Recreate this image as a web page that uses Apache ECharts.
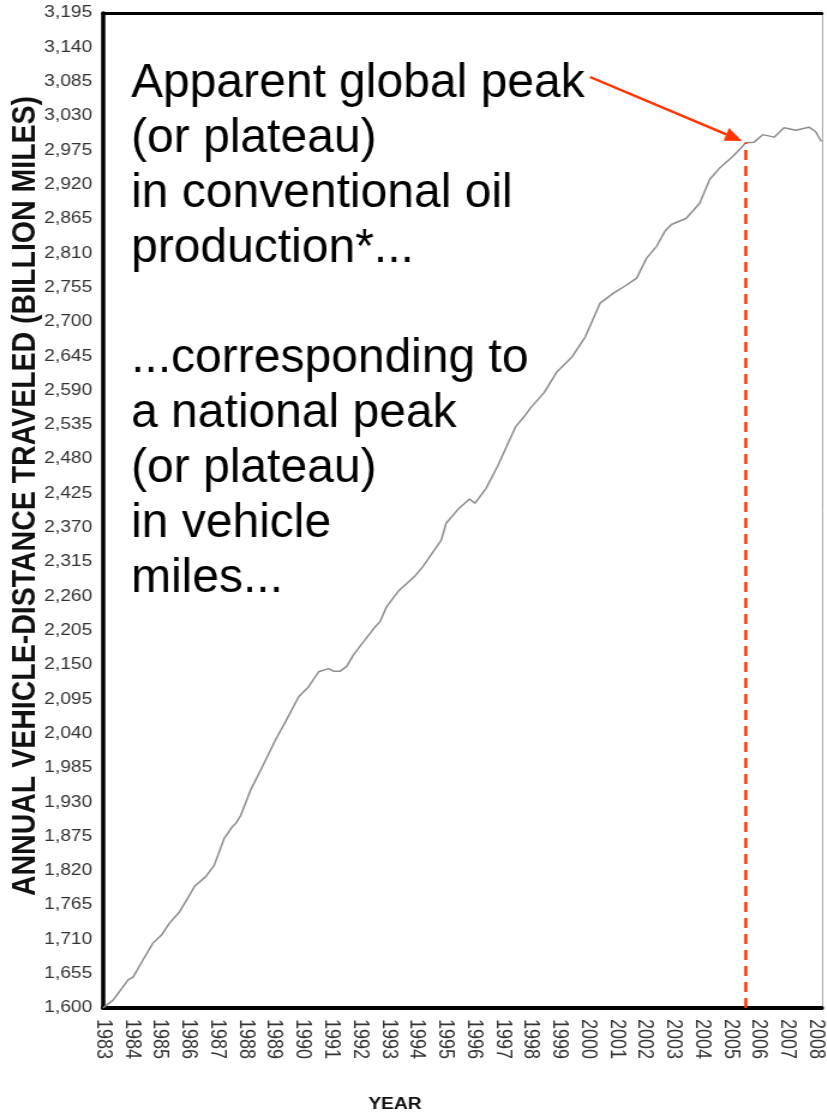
<!DOCTYPE html>
<html>
<head>
<meta charset="utf-8">
<title>Annual vehicle-distance traveled</title>
<script src="https://cdn.jsdelivr.net/npm/echarts@6/dist/echarts.min.js"></script>
<style>
  html, body { margin: 0; padding: 0; background: #fff; }
  #wrap { width: 827px; height: 1120px; overflow: hidden; }
  /* the source picture is stretched sideways, so the chart is too */
  #chart { width: 689px; height: 1120px; transform: scaleX(1.2); transform-origin: 0 0; }
</style>
</head>
<body>
<div id="wrap"><div id="chart"></div></div>
<script>
// moving annual total, billion miles
const years = [
  1983.00, 1983.07, 1983.36, 1983.88, 1984.06, 1984.40, 1984.75, 1985.05, 1985.33, 1985.68,
  1985.97, 1986.21, 1986.61, 1986.90, 1987.25, 1987.54, 1987.66, 1987.83, 1988.06, 1988.18,
  1988.59, 1989.05, 1989.40, 1989.86, 1990.21, 1990.56, 1990.91, 1991.08, 1991.32, 1991.55,
  1991.78, 1992.13, 1992.54, 1992.71, 1992.94, 1993.35, 1993.93, 1994.22, 1994.86, 1995.03,
  1995.44, 1995.85, 1996.04, 1996.43, 1996.83, 1997.47, 1997.82, 1997.99, 1998.46, 1998.92,
  1999.45, 1999.91, 2000.43, 2000.90, 2001.36, 2001.71, 2002.06, 2002.41, 2002.70, 2002.93,
  2003.45, 2003.92, 2004.27, 2004.61, 2005.08, 2005.54, 2005.83, 2006.13, 2006.53, 2006.88,
  2007.29, 2007.75, 2007.98, 2008.19
]
const vmt = [
  1600, 1602, 1613, 1645, 1650, 1677, 1704, 1717, 1736, 1754,
  1776, 1795, 1811, 1829, 1872, 1891, 1896, 1909, 1936, 1950,
  1987, 2030, 2059, 2099, 2115, 2139, 2144, 2140, 2140, 2148,
  2166, 2187, 2211, 2219, 2243, 2268, 2292, 2308, 2350, 2377,
  2399, 2416, 2409, 2433, 2468, 2532, 2551, 2562, 2586, 2620,
  2644, 2676, 2730, 2746, 2759, 2770, 2802, 2821, 2845, 2856,
  2866, 2890, 2928, 2946, 2965, 2987, 2988, 3000, 2996, 3011,
  3007, 3012, 3005, 2989
]
const yearTicks = [
  1983, 1984, 1985, 1986, 1987, 1988, 1989, 1990, 1991, 1992, 1993, 1994, 1995,
  1996, 1997, 1998, 1999, 2000, 2001, 2002, 2003, 2004, 2005, 2006, 2007, 2008
]
const vmtTicks = [
  1600, 1655, 1710, 1765, 1820, 1875, 1930, 1985, 2040, 2095, 2150, 2205, 2260, 2315, 2370,
  2425, 2480, 2535, 2590, 2645, 2700, 2755, 2810, 2865, 2920, 2975, 3030, 3085, 3140, 3195
]
const peakYear = 2005.54
const peakValue = 2987
const noteLines = [
  'Apparent global peak',
  '(or plateau)',
  'in conventional oil',
  'production*...',
  '',
  '...corresponding to',
  'a national peak',
  '(or plateau)',
  'in vehicle',
  'miles...'
]

const S = 1.2 // horizontal stretch
const sx = v => v / S
const FONT = '"Liberation Sans", Arial, sans-serif'
const RED = '#ff3300'

// arrow, in page pixels
const arrowFrom = [590, 77]
const arrowTip = [742, 141]
const dx = arrowTip[0] - arrowFrom[0]
const dy = arrowTip[1] - arrowFrom[1]
const len = Math.sqrt(dx * dx + dy * dy)
const ux = dx / len
const uy = dy / len
const headLen = 17
const headHalf = 7
const baseX = arrowTip[0] - ux * headLen
const baseY = arrowTip[1] - uy * headLen

const chart = echarts.init(document.getElementById('chart'))

chart.setOption({
  animation: false,
  backgroundColor: '#fff',
  grid: {
    left: sx(103),
    right: 689 - sx(826),
    top: 13,
    bottom: 112
  },
  xAxis: [{
    type: 'value',
    min: 1983,
    max: 2008.2,
    position: 'bottom',
    axisLine: { onZero: false, lineStyle: { color: '#000', width: 4 } },
    axisTick: { show: false },
    splitLine: { show: false },
    axisLabel: {
      customValues: yearTicks,
      rotate: -90,
      margin: 11,
      fontSize: 18,
      fontFamily: FONT,
      color: '#333',
      formatter: v => String(v)
    }
  }, {
    type: 'value',
    min: 1983,
    max: 2008.2,
    position: 'top',
    axisLine: { onZero: false, lineStyle: { color: '#000', width: 3 } },
    axisTick: { show: false },
    axisLabel: { show: false },
    splitLine: { show: false }
  }],
  yAxis: [{
    type: 'value',
    min: 1600,
    max: 3195,
    position: 'left',
    axisLine: { show: true, onZero: false, lineStyle: { color: '#000', width: 3.5 } },
    axisTick: { show: false },
    splitLine: { show: false },
    axisLabel: {
      customValues: vmtTicks,
      margin: 9,
      fontSize: 16,
      fontFamily: FONT,
      color: '#333',
      formatter: v => v.toLocaleString('en-US')
    }
  }, {
    type: 'value',
    min: 1600,
    max: 3195,
    position: 'right',
    axisLine: { show: true, onZero: false, lineStyle: { color: '#aaa', width: 1 } },
    axisTick: { show: false },
    axisLabel: { show: false },
    splitLine: { show: false }
  }],
  series: [{
    type: 'line',
    data: years.map((y, i) => [y, vmt[i]]),
    showSymbol: false,
    lineStyle: { color: '#8c8c8c', width: 1.5 },
    markLine: {
      silent: true,
      symbol: 'none',
      label: { show: false },
      lineStyle: { color: RED, type: [10, 6], width: 2.5 },
      data: [[{ coord: [peakYear, 1600] }, { coord: [peakYear, peakValue] }]]
    }
  }],
  graphic: [{
    type: 'text',
    x: sx(25),
    y: 496,
    rotation: Math.PI / 2,
    style: {
      text: 'ANNUAL VEHICLE-DISTANCE TRAVELED (BILLION MILES)',
      font: 'bold 28.5px ' + FONT,
      fill: '#111',
      align: 'center',
      verticalAlign: 'middle'
    }
  }, {
    type: 'text',
    x: sx(395),
    y: 1105,
    style: {
      text: 'YEAR',
      font: 'bold 16px ' + FONT,
      fill: '#111',
      align: 'center',
      verticalAlign: 'middle'
    }
  }, {
    type: 'text',
    x: sx(131),
    y: 56,
    scaleX: 1 / S,
    style: {
      text: noteLines.join('\n'),
      font: '48px ' + FONT,
      lineHeight: 55,
      fill: '#000',
      align: 'left',
      verticalAlign: 'top'
    }
  }, {
    type: 'line',
    shape: { x1: sx(arrowFrom[0]), y1: arrowFrom[1], x2: sx(baseX), y2: baseY },
    style: { stroke: RED, lineWidth: 2.5 }
  }, {
    type: 'polygon',
    shape: {
      points: [
        [sx(arrowTip[0]), arrowTip[1]],
        [sx(baseX - uy * headHalf), baseY + ux * headHalf],
        [sx(baseX + uy * headHalf), baseY - ux * headHalf]
      ]
    },
    style: { fill: RED }
  }]
})
</script>
</body>
</html>
